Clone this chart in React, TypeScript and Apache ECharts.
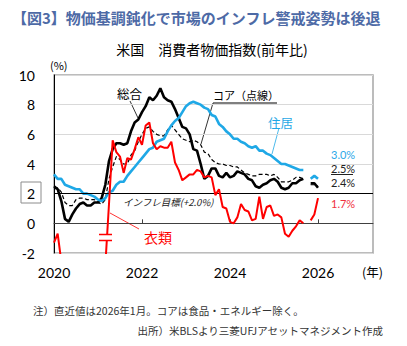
import React, { useEffect, useRef } from "react";
import * as echarts from "echarts";

const startYear = 2020;
const xTicks = [2020, 2022, 2024, 2026];
const yTicks = [-2, 0, 2, 4, 6, 8, 10];

// Monthly y/y %, Jan 2020 .. Jan 2026 (Oct 2025 missing)
const headline = [
  2.5, 2.3, 1.5, 0.3, 0.1, 0.6, 1.0, 1.3, 1.4, 1.2, 1.2, 1.4,
  1.4, 1.7, 2.6, 4.2, 5.0, 5.4, 5.4, 5.3, 5.4, 6.2, 6.8, 7.0,
  7.5, 7.9, 8.5, 8.3, 8.6, 9.1, 8.5, 8.3, 8.2, 7.7, 7.1, 6.5,
  6.4, 6.0, 5.0, 4.9, 4.0, 3.0, 3.2, 3.7, 3.7, 3.2, 3.1, 3.4,
  3.1, 3.2, 3.5, 3.4, 3.3, 3.0, 2.9, 2.5, 2.4, 2.6, 2.7, 2.9,
  3.0, 2.8, 2.4, 2.3, 2.4, 2.7, 2.7, 2.9, 3.0, null, 2.7, 2.7,
  2.4,
];
const core = [
  2.3, 2.4, 2.1, 1.4, 1.2, 1.2, 1.6, 1.7, 1.7, 1.6, 1.6, 1.6,
  1.4, 1.3, 1.6, 3.0, 3.8, 4.5, 4.3, 4.0, 4.0, 4.6, 4.9, 5.5,
  6.0, 6.4, 6.5, 6.2, 6.0, 5.9, 5.9, 6.3, 6.6, 6.3, 6.0, 5.7,
  5.6, 5.5, 5.6, 5.5, 5.3, 4.8, 4.7, 4.3, 4.1, 4.0, 4.0, 3.9,
  3.9, 3.8, 3.8, 3.6, 3.4, 3.3, 3.2, 3.2, 3.3, 3.3, 3.3, 3.2,
  3.3, 3.1, 2.8, 2.8, 2.8, 2.9, 3.1, 3.1, 3.0, null, 2.6, 2.6,
  2.5,
];
const shelter = [
  3.3, 3.0, 3.0, 2.6, 2.5, 2.4, 2.3, 2.3, 2.0, 2.0, 1.9, 1.8,
  1.6, 1.5, 1.7, 2.1, 2.2, 2.6, 2.8, 2.8, 3.2, 3.5, 3.8, 4.1,
  4.4, 4.7, 5.0, 5.1, 5.5, 5.6, 5.7, 6.2, 6.6, 6.9, 7.1, 7.5,
  7.9, 8.1, 8.2, 8.1, 8.0, 7.8, 7.7, 7.3, 7.2, 6.7, 6.5, 6.2,
  6.0, 5.7, 5.7, 5.5, 5.4, 5.2, 5.1, 5.2, 4.9, 4.9, 4.7, 4.6,
  4.4, 4.2, 4.0, 4.0, 3.9, 3.8, 3.7, 3.6, 3.6, null, 3.0, 3.2,
  3.0,
];
const apparel = [
  -1.3, -0.7, -2.6, -4.7, -7.9, -6.5, -5.0, -3.5, -5.3, -4.1, -3.8, -3.0,
  -2.3, -3.6, -2.8, 1.3, 5.6, 4.8, 4.5, 3.4, 4.4, 4.3, 5.0, 5.8,
  5.3, 6.6, 6.8, 5.4, 5.0, 5.2, 5.1, 5.1, 5.5, 4.1, 3.6, 2.9,
  3.1, 3.3, 3.3, 3.6, 3.5, 3.1, 3.2, 3.1, 1.9, 2.3, 1.1, 1.0,
  0.1, 0.0, 0.4, 1.3, 0.9, 0.8, 0.2, 0.3, 1.8, 0.3, 1.1, 1.2,
  0.5, 0.6, 0.4, -0.7, -0.9, -0.5, -0.2, 0.2, 0.0, null, 0.2, 0.6,
  1.7,
];

const latestLabels = ["3.0%", "2.5%", "2.4%", "1.7%"];

const BLUE = "#1fa8e6";
const RED = "#ff0000";
const JP = "'Noto Sans CJK JP', sans-serif";
const NUM = "Lato, 'Noto Sans CJK JP', sans-serif";

const toPoints = (arr: (number | null)[]) =>
  arr.map((v, i) => [startYear + i / 12, v]);

export default function App() {
  const ref = useRef<HTMLDivElement>(null);

  useEffect(() => {
    if (!ref.current) return;
    const chart = echarts.init(ref.current, null, { renderer: "svg" });

    const lineSeries = (
      name: string,
      data: (number | null)[],
      color: string,
      width: number,
      type: any = "solid",
      z = 2
    ) => ({
      name,
      type: "line",
      data: toPoints(data),
      xAxisIndex: 0,
      yAxisIndex: 0,
      showSymbol: false,
      symbol: "none",
      connectNulls: false,
      clip: true,
      z,
      lineStyle: { color, width, type },
    });

    const txt = (
      text: string,
      x: number,
      y: number,
      opts: any = {}
    ) => ({
      type: "text",
      x,
      y,
      silent: true,
      style: {
        text,
        fill: opts.fill || "#000",
        font: opts.font || `${opts.size || 12}px ${opts.family || JP}`,
        textAlign: opts.align || "left",
        textVerticalAlign: "middle",
        verticalAlign: "middle",
      },
    });
    const ln = (x1: number, y1: number, x2: number, y2: number, stroke: string, w = 0.8) => ({
      type: "line",
      silent: true,
      shape: { x1, y1, x2, y2 },
      style: { stroke, lineWidth: w },
    });

    const option: any = {
      animation: false,
      backgroundColor: "#fff",
      grid: {
        left: 54,
        right: 34,
        top: 75,
        bottom: 93,
        show: true,
        borderColor: "#a6a6a6",
        borderWidth: 1.5,
        backgroundColor: "transparent",
      },
      xAxis: [
        {
          type: "value",
          min: 2020,
          max: 2027.25,
          interval: 2,
          position: "bottom",
          axisLine: { show: false, onZero: false },
          axisTick: { show: false },
          splitLine: { show: false },
          axisLabel: {
            color: "#000",
            fontSize: 14,
            fontFamily: NUM,
            margin: 12,
            customValues: xTicks,
            formatter: (v: number) => String(v),
          },
        },
        {
          type: "value",
          min: 2020,
          max: 2027.25,
          interval: 2,
          position: "bottom",
          axisLine: { show: true, onZero: true, lineStyle: { color: "#404040", width: 1 } },
          axisTick: {
            show: true,
            inside: true,
            length: 4,
            customValues: [2022, 2024, 2026],
            lineStyle: { color: "#404040", width: 1 },
          },
          axisLabel: { show: false },
          splitLine: { show: false },
        },
      ],
      yAxis: {
        type: "value",
        min: -2,
        max: 10,
        interval: 2,
        axisLine: { show: true, onZero: false, lineStyle: { color: "#000", width: 1 } },
        axisTick: { show: false },
        axisLabel: {
          color: "#000",
          fontSize: 14,
          fontFamily: NUM,
          margin: 19,
          customValues: yTicks,
        },
        splitLine: { show: true, lineStyle: { color: "#d9d9d9", width: 1 } },
      },
      series: [
        {
          ...lineSeries("コア", core, "#000", 1.2, [4, 2.5], 2),
          markLine: {
            silent: true,
            symbol: ["none", "none"],
            label: { show: false },
            lineStyle: { color: "#000", width: 1, type: "solid" },
            data: [{ yAxis: 2 }],
          },
        },
        lineSeries("総合", headline, "#000", 2.6, "solid", 3),
        lineSeries("住居", shelter, BLUE, 2.6, "solid", 4),
        lineSeries("衣類", apparel, RED, 2, "solid", 5),
      ],
      graphic: [
        txt("【図3】物価基調鈍化で市場のインフレ警戒姿勢は後退", 12, 17, {
          font: `bold 15px ${JP}`,
          fill: "#4d6aa6",
        }),
        txt("米国　消費者物価指数(前年比)", 212, 49, { size: 14, align: "center" }),
        txt("(%)", 50, 65, { size: 11 }),
        {
          type: "rect",
          silent: true,
          shape: { x: 21, y: 182, width: 20, height: 21 },
          style: { fill: "none", stroke: "#8c8c8c", lineWidth: 1 },
        },
        // annotations
        txt("総合", 117, 93, { size: 12.5 }),
        ln(130, 101, 138, 118, "#000"),
        txt("コア（点線）", 213, 95, { size: 11 }),
        ln(213, 103, 277, 103, "#000", 1),
        ln(213, 103, 201, 144, "#000"),
        txt("住居", 268, 122, { size: 12.5, fill: BLUE }),
        ln(279, 128, 272, 154, BLUE),
        txt("衣類", 144, 237, { size: 14, fill: RED }),
        ln(110, 213, 139, 229, RED),
        txt("インフレ目標(+2.0%)", 123, 202, {
          font: `italic 9.5px ${JP}`,
          fill: "#222",
        }),
        // axis break marks on apparel line
        {
          type: "rect",
          silent: true,
          z: 100,
          shape: { x: 99, y: 235, width: 14, height: 5 },
          style: { fill: "#fff" },
        },
        { ...ln(99, 234.5, 112, 234.5, RED, 1.5), z: 101 },
        { ...ln(99, 240.5, 112, 240.5, RED, 1.5), z: 101 },
        // latest values
        txt(latestLabels[0], 331, 154, { size: 11, family: NUM, fill: "#2aa8e8" }),
        txt(latestLabels[1], 331, 168, { size: 11, family: NUM, fill: "#222" }),
        ln(331, 174.5, 353, 174.5, "#222", 1),
        txt(latestLabels[2], 331, 182, { size: 11, family: NUM, fill: "#222" }),
        txt(latestLabels[3], 331, 203, { size: 11, family: NUM, fill: "#f03040" }),
        // axis unit and notes
        txt("(年)", 362, 271, { size: 12.5 }),
        txt("注）直近値は2026年1月。コアは食品・エネルギー除く。", 33, 310, {
          size: 10.5,
          fill: "#333",
        }),
        txt("出所）米BLSより三菱UFJアセットマネジメント作成", 383, 330, {
          size: 10.5,
          fill: "#333",
          align: "right",
        }),
      ],
    };

    chart.setOption(option);
    return () => chart.dispose();
  }, []);

  return (
    <div
      ref={ref}
      style={{ position: "absolute", left: 0, top: 0, width: 407, height: 346 }}
    />
  );
}
